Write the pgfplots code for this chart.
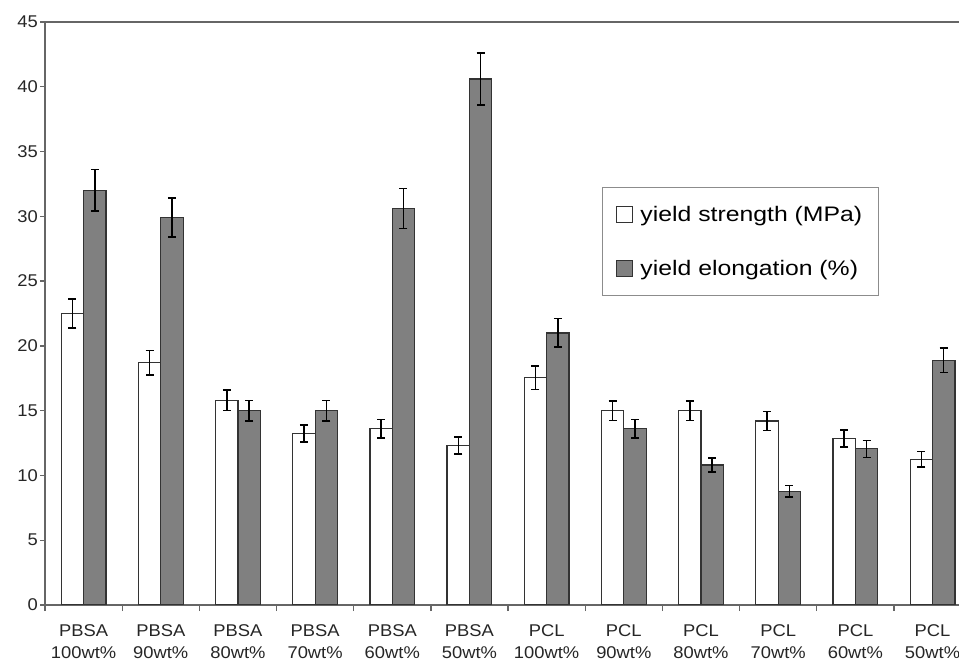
\documentclass[border=0pt]{standalone}
\usepackage{fontspec}
\setmainfont{Liberation Sans}[FakeStretch=1.08]
\newfontfamily\legendfont{Liberation Sans}[FakeStretch=1.18]
\usepackage{pgfplots}
\usepackage{pgfplotstable}
\pgfplotsset{compat=1.18}

\definecolor{bargray}{HTML}{808080}
\definecolor{axisgray}{HTML}{666666}
\definecolor{edge}{HTML}{333333}

% columns: category, yield strength (MPa) and its error, yield elongation (%) and its error
\pgfplotstableread{
x  ys     yserr  ye     yeerr
0  22.5   1.10   32.0   1.60
1  18.7   0.95   29.9   1.50
2  15.8   0.80   15.0   0.80
3  13.25  0.65   15.0   0.80
4  13.6   0.70   30.6   1.55
5  12.3   0.65   40.6   2.00
6  17.55  0.90   21.0   1.10
7  15.0   0.75   13.6   0.70
8  15.0   0.75   10.8   0.55
9  14.2   0.75   8.77   0.45
10 12.85  0.65   12.05  0.65
11 11.25  0.60   18.9   0.95
}\tensiledata

\begin{document}
\begin{tikzpicture}
\begin{axis}[
  at={(0,0)}, anchor=south west,
  scale only axis, width=914bp, height=583bp,
  xmin=-0.5, xmax=11.343, ymin=0, ymax=45,
  axis x line*=box, axis y line*=left,
  axis line style={draw=axisgray, line width=1.3bp},
  xtick pos=bottom, ytick pos=left,
  tick align=outside,
  major tick length=5bp, minor tick length=6bp,
  every tick/.style={draw=axisgray, line width=1.3bp},
  ytick={0,5,...,45},
  xtick={0,...,11},
  major x tick style={draw=none},
  minor xtick={-0.5,0.5,...,10.5},
  xticklabels={{PBSA\\100wt\%},{PBSA\\90wt\%},{PBSA\\80wt\%},{PBSA\\70wt\%},
    {PBSA\\60wt\%},{PBSA\\50wt\%},{PCL\\100wt\%},{PCL\\90wt\%},{PCL\\80wt\%},
    {PCL\\70wt\%},{PCL\\60wt\%},{PCL\\50wt\%}},
  /pgf/number format/assume math mode=true,
  ticklabel style={font=\fontsize{17bp}{22bp}\selectfont, text=black!85},
  xticklabel style={align=center, inner sep=0pt, yshift=-14bp},
  yticklabel style={inner sep=0pt, xshift=-2bp},
  ybar, bar width=0.29,
  legend style={
    at={(axis description cs:0.6094,0.717)}, anchor=north west,
    draw=black!45, line width=0.8bp,
    font=\legendfont\fontsize{21bp}{25bp}\selectfont,
    inner xsep=14bp, inner ysep=17bp, row sep=33bp,
    legend cell align=left,
  },
  legend image code/.code={%
    \draw[#1, line width=0.9bp] (0bp,-8bp) rectangle (16bp,8bp);
    \path (21bp,0bp);},
  error bars/error bar style={line width=1.5bp, black},
  error bars/error mark options={rotate=90, mark size=4bp, line width=1.5bp, black},
]
\addplot[draw=edge, fill=white, line width=1.2bp, bar shift=-0.145,
  error bars/.cd, y dir=both, y explicit]
  table[x=x, y=ys, y error=yserr] {\tensiledata};
\addlegendentry{yield strength (MPa)}
\addplot[draw=edge, fill=bargray, line width=1.2bp, bar shift=0.145,
  error bars/.cd, y dir=both, y explicit]
  table[x=x, y=ye, y error=yeerr] {\tensiledata};
\addlegendentry{yield elongation (\%)}
\end{axis}
\pgfresetboundingbox
\useasboundingbox (-45bp,-56bp) rectangle (914bp,605bp);
\end{tikzpicture}
\end{document}
